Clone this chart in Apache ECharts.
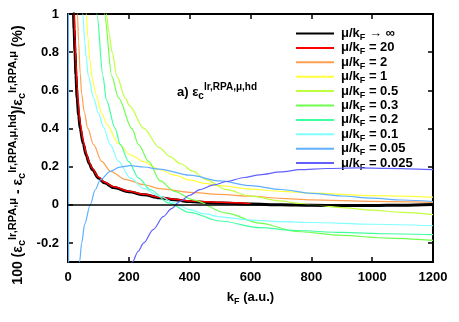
<!DOCTYPE html>
<html>
<head>
<meta charset="utf-8">
<script src="https://cdn.jsdelivr.net/npm/echarts@6/dist/echarts.min.js"></script>
<style>html,body{margin:0;padding:0;background:#fff;}#c{width:459px;height:322px;}</style>
</head>
<body>
<div id="c"></div>
<script>
// ---- data (k_F in a.u., relative difference in %) ----
const xTicks = [0, 200, 400, 600, 800, 1000, 1200];
const yTicks = [-0.2, 0, 0.2, 0.4, 0.6, 0.8, 1];

const seriesNames = ['inf', '20', '2', '1', '0.5', '0.3', '0.2', '0.1', '0.05', '0.025'];

const kInf = [15, 18, 20, 23, 26, 30, 35, 40, 50, 60, 70, 80, 100, 120, 150, 200, 250, 300, 350, 400, 450, 500, 600, 700, 800, 900, 1000, 1100, 1200];
const vInf = [1.3, 1.0, 0.92, 0.8, 0.68, 0.56, 0.47, 0.40, 0.32, 0.26, 0.215, 0.185, 0.14, 0.115, 0.09, 0.068, 0.052, 0.037, 0.026, 0.017, 0.012, 0.009, 0.004, 0.0, -0.003, -0.004, -0.004, -0.002, 0.002];

const k20 = [17, 20, 23, 26, 30, 35, 40, 50, 60, 70, 80, 100, 120, 150, 200, 250, 300, 350, 400, 450, 500, 550, 600];
const v20 = [1.3, 1.0, 0.87, 0.75, 0.62, 0.51, 0.43, 0.335, 0.27, 0.222, 0.19, 0.145, 0.118, 0.094, 0.071, 0.055, 0.04, 0.029, 0.02, 0.016, 0.013, 0.01, 0.006];

const k2 = [27, 31, 35, 40, 45, 53, 65, 84, 111, 140, 190, 250, 300, 400, 500, 600, 700, 800, 1000, 1200];
const v2 = [1.3, 1.0, 0.85, 0.69, 0.58, 0.49, 0.40, 0.315, 0.227, 0.175, 0.132, 0.105, 0.085, 0.065, 0.054, 0.045, 0.034, 0.026, 0.018, 0.013];

const k1 = [54, 60, 65, 72, 80, 92, 111, 128, 166, 205, 250, 300, 350, 400, 450, 500, 600, 700, 800, 1000, 1200];
const v1 = [1.25, 1.0, 0.88, 0.76, 0.66, 0.577, 0.48, 0.42, 0.32, 0.262, 0.225, 0.185, 0.155, 0.13, 0.112, 0.1, 0.082, 0.07, 0.061, 0.048, 0.04];

const k05 = [115, 126, 135, 145, 161, 188, 202, 249, 300, 334, 370, 411, 455, 521, 600, 700, 750, 800, 900, 1000, 1100, 1200];
const v05 = [1.2, 1.0, 0.9, 0.8, 0.673, 0.56, 0.52, 0.40, 0.30, 0.254, 0.215, 0.175, 0.131, 0.079, 0.045, 0.02, 0.009, 0.0, -0.015, -0.028, -0.04, -0.052];

const k03 = [105, 120, 144, 166, 210, 232, 265, 303, 350, 411, 521, 630, 751, 900, 1050, 1200];
const v03 = [1.2, 1.0, 0.673, 0.56, 0.40, 0.315, 0.227, 0.125, 0.07, 0.026, -0.044, -0.096, -0.14, -0.16, -0.175, -0.187];

const k02 = [85, 95, 115, 126, 155, 172, 199, 232, 270, 330, 400, 500, 630, 750, 900, 1050, 1200];
const v02 = [1.16, 1.0, 0.673, 0.55, 0.40, 0.315, 0.227, 0.14, 0.08, 0.01, -0.04, -0.085, -0.12, -0.135, -0.145, -0.152, -0.157];

const k01 = [42, 49, 55, 60, 67, 84, 100, 117, 139, 166, 205, 250, 300, 350, 400, 450, 500, 600, 700, 800, 1000, 1200];
const v01 = [1.15, 1.0, 0.85, 0.77, 0.673, 0.56, 0.48, 0.405, 0.315, 0.227, 0.14, 0.085, 0.045, 0.01, -0.025, -0.048, -0.063, -0.08, -0.088, -0.093, -0.102, -0.11];

const k005 = [1, 3, 25, 38, 45, 55, 73, 90, 106, 139, 170, 205, 250, 300, 400, 500, 600, 700, 800, 900, 1000, 1100, 1200];
const v005 = [1.5, -1.5, -0.55, -0.3, -0.2, -0.1, 0.0, 0.08, 0.131, 0.175, 0.197, 0.205, 0.198, 0.187, 0.155, 0.125, 0.1, 0.08, 0.06, 0.046, 0.035, 0.025, 0.017];

const k0025 = [195, 212, 230, 249, 280, 314, 340, 367, 400, 433, 480, 521, 580, 630, 700, 762, 850, 950, 1050, 1150, 1200];
const v0025 = [-0.36, -0.3, -0.245, -0.2, -0.13, -0.061, -0.02, 0.017, 0.05, 0.079, 0.104, 0.122, 0.143, 0.157, 0.172, 0.184, 0.19, 0.193, 0.191, 0.187, 0.184];

const kList = [kInf, k20, k2, k1, k05, k03, k02, k01, k005, k0025];
const vList = [vInf, v20, v2, v1, v05, v03, v02, v01, v005, v0025];

// ---- styles ----
const colors = ['#000000', '#ff0000', '#ffa050', '#ffff40', '#c0ff40', '#70ff50', '#40ffa0', '#80ffff', '#60b0ff', '#6060ff'];
const widths = [3, 1.5, 1.2, 1.2, 1.2, 1.2, 1.2, 1.2, 1.2, 1.2];
const FF = '"Liberation Sans", Arial, Helvetica, sans-serif';

const zip = (ks, vs) => ks.map((k, i) => [k, vs[i]]);

const series = seriesNames.map((n, i) => {
  const s = {
    name: n,
    type: 'line',
    data: zip(kList[i], vList[i]),
    symbol: 'none',
    smooth: 0.3,
    smoothMonotone: 'x',
    clip: true,
    lineStyle: { color: colors[i], width: widths[i] },
    itemStyle: { color: colors[i] },
    z: i === 0 ? 3 : 4
  };
  if (i === 0) {
    s.markLine = {
      silent: true,
      symbol: ['none', 'none'],
      label: { show: false },
      lineStyle: { color: '#000', width: 1.5, type: 'solid' },
      data: [{ yAxis: 0 }]
    };
  }
  return s;
});

const rich = {
  n: { fontSize: 13, fontWeight: 'bold', fontFamily: FF, color: '#000', lineHeight: 14 },
  s: { fontSize: 9, fontWeight: 'bold', fontFamily: FF, color: '#000', lineHeight: 14, padding: [8, 0, 0, 0] }
};

function mkRich(main, small) {
  return {
    n: { fontSize: main, fontWeight: 'bold', fontFamily: FF, color: '#000', lineHeight: 22 },
    sb: { fontSize: small, fontWeight: 'bold', fontFamily: FF, color: '#000', lineHeight: 22, padding: [8, 0, 0, 0] },
    sp: { fontSize: small, fontWeight: 'bold', fontFamily: FF, color: '#000', lineHeight: 22, padding: [0, 0, 10, 0] }
  };
}

const axisCommon = {
  type: 'value',
  axisLine: { show: true, onZero: false, lineStyle: { color: '#000', width: 2 } },
  axisTick: { show: true, inside: true, length: 5, lineStyle: { color: '#000', width: 1.5 } },
  splitLine: { show: false }
};

const chart = echarts.init(document.getElementById('c'), null, { renderer: 'canvas' });
chart.setOption({
  animation: false,
  backgroundColor: '#fff',
  grid: { left: 68, right: 26, top: 14, bottom: 60, containLabel: false },
  xAxis: [
    Object.assign({}, axisCommon, {
      position: 'bottom', min: 0, max: 1200, interval: 200,
      axisLabel: { show: true, margin: 9, fontSize: 13, fontWeight: 'bold', fontFamily: FF, color: '#000', formatter: v => String(v) },
      name: '{n|k}{s|F}{n| (a.u.)}',
      nameLocation: 'middle',
      nameGap: 27,
      nameTextStyle: { rich: rich }
    }),
    Object.assign({}, axisCommon, {
      position: 'top', min: 0, max: 1200, interval: 200,
      axisLabel: { show: false }
    })
  ],
  yAxis: [
    Object.assign({}, axisCommon, {
      position: 'left', min: -0.3, max: 1,
      axisTick: Object.assign({}, axisCommon.axisTick, { customValues: yTicks }),
      axisLabel: { show: true, customValues: yTicks, margin: 9, fontSize: 13, fontWeight: 'bold', fontFamily: FF, color: '#000', formatter: v => String(v) }
    }),
    Object.assign({}, axisCommon, {
      position: 'right', min: -0.3, max: 1,
      axisTick: Object.assign({}, axisCommon.axisTick, { customValues: yTicks }),
      axisLabel: { show: false, customValues: yTicks }
    })
  ],
  legend: {
    orient: 'vertical',
    left: 295,
    top: 25,
    padding: 0,
    itemWidth: 38,
    itemHeight: 14,
    itemGap: -2.6,
    data: seriesNames,
    itemStyle: { opacity: 0 },
    formatter: function (name) {
      return name === 'inf' ? '{n|μ/k}{s|F}{n| → ∞}' : '{n|μ/k}{s|F}{n| = ' + name + '}';
    },
    textStyle: { rich: rich, padding: [0, 0, 0, 2] }
  },
  graphic: [
    {
      type: 'text',
      x: 18, y: 155,
      rotation: Math.PI / 2,
      style: {
        text: '{n|100 (ε}{sb|c}{sp|lr,RPA,μ}{n| - ε}{sb|c}{sp|lr,RPA,μ,hd}{n|)/ε}{sb|c}{sp|lr,RPA,μ}{n| (%)}',
        rich: mkRich(14, 11),
        align: 'center',
        verticalAlign: 'middle'
      }
    },
    {
      type: 'text',
      x: 177, y: 92,
      style: {
        text: '{n|a) ε}{sb|c}{sp|lr,RPA,μ,hd}',
        rich: mkRich(13, 10),
        align: 'left',
        verticalAlign: 'middle'
      }
    }
  ],
  series: series
});
</script>
</body>
</html>
